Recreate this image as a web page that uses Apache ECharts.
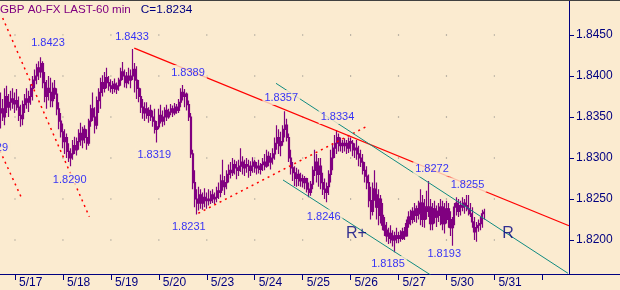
<!DOCTYPE html>
<html><head><meta charset="utf-8">
<script src="https://cdn.jsdelivr.net/npm/echarts@6/dist/echarts.min.js"></script>
<style>html,body{margin:0;padding:0;background:#FBEBD0}#c{width:620px;height:290px}</style>
</head><body><div id="c"></div><script>
// ---- data (60-min bars; bar index 0 = start of 5/17, 24 bars per day) ----
const firstBar = -7;
const closes = [
1.8360,1.8350,1.8375,1.8362,1.8368,1.8372,1.8366,
1.8370,1.8362,1.8352,1.8348,1.8365,1.8372,1.8368,1.8375,1.8385,1.8395,1.8400,1.8410,1.8405,1.8415,1.8392,1.8375,1.8385,1.8380,1.8370,1.8385,1.8378,1.8360,1.8345,1.8332,
1.8320,1.8325,1.8308,1.8300,1.8305,1.8315,1.8310,1.8320,1.8330,1.8322,1.8335,1.8325,1.8318,1.8345,1.8360,1.8350,1.8340,1.8370,1.8380,1.8392,1.8385,1.8398,1.8392,1.8388,
1.8385,1.8390,1.8384,1.8388,1.8395,1.8405,1.8400,1.8392,1.8400,1.8395,1.8400,1.8408,1.8395,1.8385,1.8375,1.8362,1.8355,1.8360,1.8352,1.8358,1.8350,1.8345,1.8335,1.8338,
1.8352,1.8345,1.8350,1.8358,1.8350,1.8356,1.8360,1.8355,1.8362,1.8358,1.8368,1.8380,1.8375,1.8378,1.8365,1.8350,1.8305,1.8270,1.8250,1.8245,1.8255,1.8245,1.8252,1.8248,
1.8250,1.8248,1.8255,1.8250,1.8252,1.8260,1.8258,1.8272,1.8265,1.8270,1.8280,1.8285,1.8282,1.8292,1.8288,1.8285,1.8290,1.8295,1.8288,1.8292,1.8290,1.8285,1.8290,1.8295,
1.8288,1.8290,1.8286,1.8292,1.8295,1.8290,1.8302,1.8295,1.8300,1.8305,1.8318,1.8325,1.8315,1.8320,1.8335,1.8340,1.8325,1.8300,1.8288,1.8282,1.8275,1.8280,1.8272,1.8275,
1.8270,1.8275,1.8262,1.8258,1.8268,1.8285,1.8295,1.8280,1.8290,1.8270,1.8262,1.8258,1.8265,1.8280,1.8300,1.8312,1.8318,1.8325,1.8315,1.8318,1.8315,1.8318,1.8312,1.8320,
1.8318,1.8310,1.8312,1.8305,1.8300,1.8295,1.8285,1.8278,1.8270,1.8248,1.8235,1.8262,1.8255,1.8240,1.8250,1.8230,1.8218,1.8212,1.8205,1.8208,1.8202,1.8200,1.8205,1.8202,
1.8205,1.8202,1.8210,1.8205,1.8220,1.8228,1.8225,1.8235,1.8230,1.8238,1.8232,1.8245,1.8225,1.8240,1.8235,1.8240,1.8220,1.8238,1.8228,1.8235,1.8230,1.8240,1.8220,1.8235,
1.8238,1.8225,1.8215,1.8222,1.8240,1.8245,1.8235,1.8242,1.8240,1.8245,1.8242,1.8238,1.8232,1.8222,1.8210,1.8215,1.8218,1.8220,1.8232,1.8234];
const highs = [
1.8380,1.8372,1.8385,1.8388,1.8378,1.8382,1.8385,
1.8380,1.8384,1.8375,1.8365,1.8370,1.8378,1.8385,1.8382,1.8390,1.8400,1.8408,1.8415,1.8418,1.8423,1.8418,1.8405,1.8395,1.8400,1.8398,1.8392,1.8395,1.8385,1.8368,1.8355,
1.8342,1.8335,1.8330,1.8318,1.8312,1.8322,1.8326,1.8325,1.8335,1.8343,1.8338,1.8340,1.8335,1.8348,1.8365,1.8380,1.8362,1.8375,1.8385,1.8398,1.8401,1.8405,1.8410,1.8400,
1.8396,1.8394,1.8397,1.8392,1.8398,1.8410,1.8417,1.8408,1.8405,1.8410,1.8408,1.8433,1.8416,1.8412,1.8395,1.8385,1.8372,1.8368,1.8368,1.8362,1.8365,1.8358,1.8360,1.8345,
1.8360,1.8365,1.8358,1.8362,1.8365,1.8360,1.8366,1.8364,1.8367,1.8366,1.8372,1.8385,1.8389,1.8384,1.8380,1.8370,1.8355,1.8310,1.8285,1.8262,1.8265,1.8262,1.8258,1.8263,
1.8258,1.8262,1.8260,1.8262,1.8258,1.8265,1.8270,1.8280,1.8298,1.8278,1.8285,1.8292,1.8295,1.8300,1.8298,1.8296,1.8298,1.8312,1.8302,1.8298,1.8300,1.8298,1.8296,1.8301,
1.8298,1.8295,1.8298,1.8294,1.8300,1.8305,1.8310,1.8308,1.8306,1.8312,1.8325,1.8340,1.8335,1.8332,1.8340,1.8357,1.8348,1.8330,1.8310,1.8295,1.8290,1.8288,1.8286,1.8282,
1.8280,1.8278,1.8276,1.8270,1.8272,1.8290,1.8310,1.8305,1.8300,1.8300,1.8282,1.8275,1.8270,1.8285,1.8310,1.8318,1.8328,1.8334,1.8330,1.8325,1.8322,1.8324,1.8322,1.8325,
1.8325,1.8322,1.8318,1.8322,1.8315,1.8310,1.8305,1.8295,1.8290,1.8280,1.8265,1.8270,1.8285,1.8270,1.8262,1.8255,1.8245,1.8228,1.8222,1.8215,1.8218,1.8212,1.8210,1.8215,
1.8210,1.8212,1.8215,1.8216,1.8225,1.8235,1.8237,1.8240,1.8245,1.8242,1.8248,1.8262,1.8255,1.8250,1.8260,1.8272,1.8250,1.8245,1.8248,1.8242,1.8245,1.8250,1.8248,1.8245,
1.8248,1.8245,1.8235,1.8228,1.8245,1.8252,1.8250,1.8248,1.8252,1.8250,1.8255,1.8255,1.8245,1.8240,1.8228,1.8222,1.8225,1.8228,1.8237,1.8238];
const lows = [
1.8336,1.8345,1.8340,1.8355,1.8350,1.8358,1.8360,
1.8355,1.8358,1.8345,1.8338,1.8340,1.8355,1.8360,1.8356,1.8365,1.8370,1.8385,1.8390,1.8395,1.8398,1.8385,1.8368,1.8360,1.8370,1.8362,1.8362,1.8372,1.8352,1.8335,1.8325,
1.8312,1.8305,1.8300,1.8295,1.8290,1.8298,1.8305,1.8303,1.8310,1.8315,1.8312,1.8318,1.8310,1.8315,1.8338,1.8345,1.8330,1.8335,1.8355,1.8360,1.8375,1.8380,1.8385,1.8382,
1.8380,1.8378,1.8380,1.8378,1.8382,1.8388,1.8395,1.8386,1.8385,1.8390,1.8385,1.8395,1.8380,1.8372,1.8368,1.8355,1.8348,1.8345,1.8348,1.8343,1.8345,1.8338,1.8330,1.8319,
1.8335,1.8342,1.8338,1.8340,1.8345,1.8348,1.8352,1.8350,1.8352,1.8354,1.8355,1.8362,1.8370,1.8362,1.8358,1.8345,1.8300,1.8262,1.8240,1.8231,1.8236,1.8238,1.8237,1.8240,
1.8238,1.8242,1.8244,1.8245,1.8244,1.8246,1.8250,1.8252,1.8260,1.8255,1.8262,1.8270,1.8275,1.8278,1.8280,1.8274,1.8278,1.8283,1.8280,1.8278,1.8282,1.8276,1.8278,1.8282,
1.8282,1.8280,1.8281,1.8280,1.8284,1.8285,1.8288,1.8290,1.8286,1.8292,1.8298,1.8310,1.8305,1.8302,1.8315,1.8325,1.8320,1.8295,1.8280,1.8272,1.8266,1.8265,1.8266,1.8265,
1.8264,1.8262,1.8258,1.8252,1.8254,1.8262,1.8278,1.8270,1.8265,1.8262,1.8255,1.8250,1.8246,1.8255,1.8270,1.8285,1.8300,1.8305,1.8308,1.8308,1.8306,1.8308,1.8305,1.8306,
1.8308,1.8302,1.8300,1.8298,1.8290,1.8289,1.8280,1.8270,1.8262,1.8240,1.8225,1.8230,1.8248,1.8225,1.8218,1.8220,1.8212,1.8205,1.8198,1.8195,1.8196,1.8192,1.8185,1.8196,
1.8196,1.8198,1.8200,1.8200,1.8204,1.8215,1.8218,1.8220,1.8222,1.8221,1.8225,1.8218,1.8216,1.8215,1.8225,1.8228,1.8212,1.8212,1.8220,1.8216,1.8222,1.8218,1.8212,1.8208,
1.8220,1.8215,1.8205,1.8193,1.8218,1.8230,1.8228,1.8230,1.8235,1.8232,1.8235,1.8230,1.8228,1.8215,1.8200,1.8198,1.8210,1.8212,1.8215,1.8225];
const firstOpen = 1.8355;

const dayTicks = [0,24,48,72,96,120,144,168,192,216,240,264];
const dayLabels = ['5/17','5/18','5/19','5/20','5/23','5/24','5/25','5/26','5/27','5/30','5/31'];
const priceTicks = [1.8200,1.8250,1.8300,1.8350,1.8400,1.8450];

// trend lines (bar index, price)
const resistance   = [[59.7,1.8434],[277.35,1.82174]];
const support      = [[91.77,1.82326],[176.72,1.83394]];
const leftLine1    = [[-6.16,1.84707],[37.2,1.82284]];
const leftLine2    = [[-10.0,1.83220],[3.35,1.82509]];
const channelUpper = [[130.66,1.83911],[276.85,1.81594]];
const channelLower = [[134.17,1.82732],[212.77,1.81500]];

// price annotations (text, anchor bar, anchor price)
const noteText  = ['1.8423','1.8433','1.8389','1.8357','1.8334','1.8319','1.8290','1.8231','1.8246','1.8185','1.8193','1.8272','1.8255','1.8329'];
const noteBar   = [16.52,58.57,86.61,133.27,161.45,69.69,27.38,87.01,154.54,186.73,214.87,208.76,226.53,-11.91];
const notePrice = [1.84402,1.84476,1.84043,1.83738,1.83506,1.83037,1.82732,1.82159,1.82281,1.81713,1.81829,1.82866,1.82674,1.83122];
const markText  = ['R+','R'];
const markBar   = [170.96,246.81];
const markPrice = [1.82073,1.82073];

const titleMain = 'GBP A0-FX LAST-60 min';
const lastClose = 1.8234;

// ---- chart ----
const BG = '#FBEBD0', NAVY = '#000080', PURPLE = '#800080';
const FF = '"Liberation Sans", Arial, sans-serif';
const xMin = -7.51, xMax = 302.88, yMin = 1.815854, yMax = 1.849268;

const n = Math.min(closes.length, highs.length, lows.length);
const candles = [];
for (let i = 0; i < n; i++) {
  const o = i === 0 ? firstOpen : closes[i - 1];
  candles.push([firstBar + i, o, closes[i], lows[i], highs[i]]);
}
const dots = [];
dayTicks.slice(0, dayLabels.length).forEach(d => priceTicks.forEach(p => dots.push([d, p])));

function trend(data, color, type, width) {
  return {type: 'line', data, symbol: 'none', silent: true, animation: false, clip: true,
          lineStyle: {color, type, width}, z: 3};
}

const chart = echarts.init(document.getElementById('c'), null, {renderer: 'canvas'});
chart.setOption({
  backgroundColor: BG,
  animation: false,
  title: {
    text: '{a|' + titleMain + '}{b|C=' + lastClose.toFixed(4) + '}',
    left: 0, top: 4, padding: 0,
    textStyle: {fontWeight: 'normal', rich: {
      a: {color: PURPLE, fontSize: 11.6, fontFamily: FF, fontWeight: 'normal'},
      b: {color: NAVY, fontSize: 11.8, fontFamily: FF, fontWeight: 'normal', padding: [0, 0, 0, 10]}
    }}
  },
  grid: {left: 0, right: 0, top: 0, bottom: 16, containLabel: false},
  xAxis: [{
    type: 'value', min: xMin, max: xMax, position: 'bottom',
    axisLine: {show: true, onZero: false, lineStyle: {color: NAVY, width: 1}},
    axisTick: {show: true, length: 6, customValues: dayTicks, lineStyle: {color: NAVY}},
    axisLabel: {show: true, customValues: dayTicks.slice(0, dayLabels.length),
      formatter: v => { const k = dayTicks.indexOf(v); return k >= 0 && k < dayLabels.length ? dayLabels[k] : ''; },
      align: 'left', padding: [0, 0, 0, 4], margin: 3, color: NAVY, fontSize: 12, fontFamily: FF},
    splitLine: {show: false}
  }, {
    type: 'value', min: xMin, max: xMax, position: 'top',
    axisLine: {show: true, onZero: false, lineStyle: {color: '#404040', width: 1}},
    axisTick: {show: false}, axisLabel: {show: false}, splitLine: {show: false}
  }],
  yAxis: {
    type: 'value', min: yMin, max: yMax, position: 'right', offset: -51,
    axisLine: {show: true, onZero: false, lineStyle: {color: NAVY, width: 1}},
    axisTick: {show: true, length: 5, customValues: priceTicks, lineStyle: {color: NAVY}},
    axisLabel: {customValues: priceTicks, formatter: v => v.toFixed(4), margin: 7,
      color: NAVY, fontSize: 12, fontFamily: FF},
    splitLine: {show: false}
  },
  series: [
    {type: 'scatter', data: dots, symbol: 'rect', symbolSize: 1.2, silent: true,
     itemStyle: {color: '#7a7a7a'}, z: 1},
    {type: 'candlestick', data: candles, encode: {x: 0, y: [1, 2, 3, 4]}, barWidth: 1.6, silent: true,
     itemStyle: {color: PURPLE, color0: PURPLE, borderColor: PURPLE, borderColor0: PURPLE, borderWidth: 1.2}, z: 2},
    trend(leftLine1, '#FF0000', [2, 4], 1.5),
    trend(leftLine2, '#FF0000', [2, 4], 1.5),
    trend(support, '#FF0000', [2, 4], 1.5),
    trend(resistance, '#FF0000', 'solid', 1.2),
    trend(channelUpper, '#108a80', 'solid', 1),
    trend(channelLower, '#108a80', 'solid', 1),
    {type: 'scatter', clip: false, symbolSize: 0, silent: true, z: 10,
     data: noteText.map((t, i) => ({name: t, value: [noteBar[i], notePrice[i]]})),
     label: {show: true, position: 'inside', formatter: '{b}', color: '#0000FF', fontSize: 11,
       fontFamily: FF, backgroundColor: BG, padding: [2, 2, 2, 2]}},
    {type: 'scatter', clip: false, symbolSize: 0, silent: true, z: 10,
     data: markText.map((t, i) => ({name: t, value: [markBar[i], markPrice[i]]})),
     label: {show: true, position: 'inside', formatter: '{b}', color: NAVY, fontSize: 16, fontFamily: FF}}
  ]
});
</script></body></html>
